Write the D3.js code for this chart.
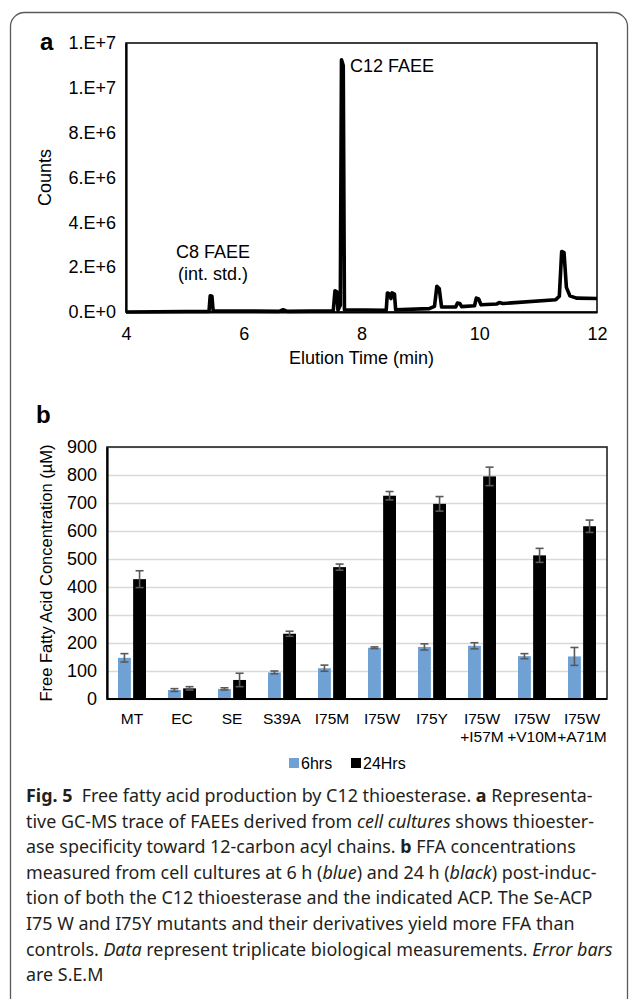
<!DOCTYPE html>
<html>
<head>
<meta charset="utf-8">
<script src="https://cdn.jsdelivr.net/npm/d3@7"></script>
<style>
  body { margin: 0; background: #fff; }
  svg text { font-family: "Liberation Sans", Arial, sans-serif; }
</style>
</head>
<body>
<div id="fig"></div>
<script>
// ---- panel a: GC-MS trace, elution time (min) vs counts ----
var traceTime   = [4.00, 5.00, 5.41, 5.43, 5.46, 5.48, 6.60, 6.67, 6.74, 7.52, 7.55, 7.58, 7.60, 7.64, 7.66, 7.69, 7.71,
                   8.42, 8.44, 8.48, 8.50, 8.52, 8.56, 8.58, 9.15, 9.24, 9.28, 9.32, 9.36, 9.60, 9.63, 9.67, 9.70,
                   9.92, 9.95, 9.99, 10.03, 10.30, 10.34, 10.40, 11.30, 11.36, 11.40, 11.44, 11.48, 11.54, 11.65, 12.00];
var traceCounts = [0, 2e4, 3e4, 7.2e5, 7.0e5, 5e4, 3e4, 1.0e5, 3e4, 5e4, 9.5e5, 9.0e5, 8e4, 3.0e5, 1.125e7, 1.10e7, 1.0e5,
                   8e4, 8.5e5, 8.0e5, 6.0e5, 8.5e5, 8.0e5, 1.0e5, 1.5e5, 2.5e5, 1.15e6, 1.05e6, 2.2e5, 2.2e5, 4.0e5, 3.8e5, 2.4e5,
                   2.8e5, 6.2e5, 5.8e5, 3.2e5, 3.6e5, 4.2e5, 3.8e5, 5.5e5, 7.0e5, 2.70e6, 2.65e6, 1.10e6, 7.2e5, 6.2e5, 6.0e5];
var chromaYTicks = [0, 2e6, 4e6, 6e6, 8e6, 1e7, 1.2e7];
var chromaXTicks = [4, 6, 8, 10, 12];

// ---- panel b: free fatty acid concentration (uM) ----
var strains   = ["MT", "EC", "SE", "S39A", "I75M", "I75W", "I75Y", "I75W\n+I57M", "I75W\n+V10M", "I75W\n+A71M"];
var ffa6h     = [147, 32, 36, 95, 110, 183, 186, 190, 153, 152];
var ffa6hErr  = [15, 5, 4, 5, 11, 3, 11, 11, 9, 32];
var ffa24h    = [428, 38, 68, 233, 471, 726, 697, 795, 513, 617];
var ffa24hErr = [30, 6, 24, 9, 11, 15, 26, 33, 25, 22];
var ffaTicks  = [0, 100, 200, 300, 400, 500, 600, 700, 800, 900];
var seriesNames  = ["6hrs", "24Hrs"];
var seriesColors = ["#6fa1d5", "#000000"];

// ---- caption, one array of [style, text] runs per printed line ----
var captionLines = [
  [["b", "Fig. 5"], ["", "  Free fatty acid production by C12 thioesterase. "], ["b", "a"], ["", " Representa-"]],
  [["", "tive GC-MS trace of FAEEs derived from "], ["i", "cell cultures"], ["", " shows thioester-"]],
  [["", "ase specificity toward 12-carbon acyl chains. "], ["b", "b"], ["", " FFA concentrations"]],
  [["", "measured from cell cultures at 6 h ("], ["i", "blue"], ["", ") and 24 h ("], ["i", "black"], ["", ") post-induc-"]],
  [["", "tion of both the C12 thioesterase and the indicated ACP. The Se-ACP"]],
  [["", "I75 W and I75Y mutants and their derivatives yield more FFA than"]],
  [["", "controls. "], ["i", "Data"], ["", " represent triplicate biological measurements. "], ["i", "Error bars"]],
  [["", "are S.E.M"]]
];

var W = 629, H = 999;
var svg = d3.select("#fig").append("svg")
    .attr("width", W)
    .attr("height", H);

// rounded outer box of the figure
svg.append("rect")
    .attr("x", 10.5).attr("y", 12.5)
    .attr("width", 617).attr("height", 1010)
    .attr("rx", 14)
    .attr("fill", "none")
    .attr("stroke", "#5a5a5a")
    .attr("stroke-width", 1.3);

function expFmt(v) {
  if (v === 0) return "0.E+0";
  var e = Math.floor(Math.log10(v));
  return Math.round(v / Math.pow(10, e)) + ".E+" + e;
}

/***** panel a *****/
var pa = {left: 126, right: 597, top: 43, bottom: 312};
var xA = d3.scaleLinear().domain([4, 12]).range([pa.left, pa.right]);
var yA = d3.scaleLinear().domain([0, 1.2e7]).range([pa.bottom, pa.top]);

svg.append("text")
    .attr("x", 40).attr("y", 50)
    .attr("font-size", 24).attr("font-weight", "bold")
    .text("a");

svg.append("rect")
    .attr("x", pa.left).attr("y", pa.top)
    .attr("width", pa.right - pa.left).attr("height", pa.bottom - pa.top)
    .attr("fill", "none").attr("stroke", "#000").attr("stroke-width", 1.5);

var yAxisA = svg.append("g")
    .attr("transform", "translate(" + pa.left + ",0)")
    .call(d3.axisLeft(yA).tickValues(chromaYTicks).tickSize(0).tickPadding(10).tickFormat(expFmt));

var xAxisA = svg.append("g")
    .attr("transform", "translate(0," + pa.bottom + ")")
    .call(d3.axisBottom(xA).tickValues(chromaXTicks).tickSize(0).tickPadding(15).tickFormat(d3.format("d")));

[yAxisA, xAxisA].forEach(function(g) {
  g.attr("font-family", null).attr("font-size", 18);
  g.select(".domain").attr("stroke", "#000").attr("stroke-width", 2.2);
  g.selectAll("text").attr("fill", "#000");
});

var trace = traceTime.map(function(t, i) { return [t, traceCounts[i]]; });
var traceLine = d3.line()
    .x(function(d) { return xA(d[0]); })
    .y(function(d) { return yA(d[1]); });

svg.append("path")
    .datum(trace)
    .attr("d", traceLine)
    .attr("fill", "none")
    .attr("stroke", "#000")
    .attr("stroke-width", 3.6)
    .attr("stroke-linejoin", "round");

svg.append("text")
    .attr("x", 350).attr("y", 72)
    .attr("font-size", 18)
    .text("C12 FAEE");

svg.append("text")
    .attr("x", 213).attr("y", 258)
    .attr("font-size", 18).attr("text-anchor", "middle")
    .text("C8 FAEE");
svg.append("text")
    .attr("x", 213).attr("y", 280)
    .attr("font-size", 18).attr("text-anchor", "middle")
    .text("(int. std.)");

svg.append("text")
    .attr("transform", "translate(51," + ((pa.top + pa.bottom) / 2) + ") rotate(-90)")
    .attr("font-size", 18).attr("text-anchor", "middle")
    .text("Counts");

svg.append("text")
    .attr("x", (pa.left + pa.right) / 2).attr("y", 364)
    .attr("font-size", 18).attr("text-anchor", "middle")
    .text("Elution Time (min)");

/***** panel b *****/
var pb = {left: 107, right: 607, top: 447, bottom: 699};
var xB = d3.scaleBand().domain(strains).range([pb.left, pb.right]);
var xS = d3.scaleBand().domain(seriesNames).range([11, 39]).paddingInner(0.15);
var yB = d3.scaleLinear().domain([0, 900]).range([pb.bottom, pb.top]);

svg.append("text")
    .attr("x", 36).attr("y", 423)
    .attr("font-size", 24).attr("font-weight", "bold")
    .text("b");

// gridlines
var grid = svg.append("g")
    .attr("transform", "translate(" + pb.left + ",0)")
    .call(d3.axisLeft(yB).tickValues(ffaTicks).tickSize(-(pb.right - pb.left)).tickFormat(""));
grid.select(".domain").remove();
grid.selectAll("line").attr("stroke", "#d9d9d9").attr("stroke-width", 1.3);

svg.append("rect")
    .attr("x", pb.left).attr("y", pb.top)
    .attr("width", pb.right - pb.left).attr("height", pb.bottom - pb.top)
    .attr("fill", "none").attr("stroke", "#222").attr("stroke-width", 1.6);

var series = [
  {name: seriesNames[0], color: seriesColors[0], vals: ffa6h, errs: ffa6hErr},
  {name: seriesNames[1], color: seriesColors[1], vals: ffa24h, errs: ffa24hErr}
];

series.forEach(function(s) {
  var bars = strains.map(function(c, i) { return {cat: c, v: s.vals[i], e: s.errs[i]}; });
  svg.append("g").selectAll("rect")
    .data(bars)
    .join("rect")
      .attr("x", function(d) { return xB(d.cat) + xS(s.name); })
      .attr("y", function(d) { return yB(d.v); })
      .attr("width", xS.bandwidth())
      .attr("height", function(d) { return yB(0) - yB(d.v); })
      .attr("fill", s.color);

  var eg = svg.append("g").attr("stroke", "#595959").attr("stroke-width", 1.6);
  bars.forEach(function(d) {
    var cx = xB(d.cat) + xS(s.name) + xS.bandwidth() / 2;
    eg.append("line").attr("x1", cx).attr("x2", cx).attr("y1", yB(d.v + d.e)).attr("y2", yB(d.v - d.e));
    eg.append("line").attr("x1", cx - 4).attr("x2", cx + 4).attr("y1", yB(d.v + d.e)).attr("y2", yB(d.v + d.e));
    eg.append("line").attr("x1", cx - 4).attr("x2", cx + 4).attr("y1", yB(d.v - d.e)).attr("y2", yB(d.v - d.e));
  });
});

var yAxisB = svg.append("g")
    .attr("transform", "translate(" + pb.left + ",0)")
    .call(d3.axisLeft(yB).tickValues(ffaTicks).tickSize(0).tickPadding(10));
yAxisB.attr("font-family", null).attr("font-size", 18);
yAxisB.select(".domain").attr("stroke", "#000").attr("stroke-width", 2.2);
yAxisB.selectAll("text").attr("fill", "#000");

svg.append("line")
    .attr("x1", pb.left).attr("x2", pb.right)
    .attr("y1", pb.bottom).attr("y2", pb.bottom)
    .attr("stroke", "#000").attr("stroke-width", 2.2);

// category labels (two lines for the double mutants)
var catText = svg.append("g").attr("font-size", 15.5).attr("text-anchor", "middle");
strains.forEach(function(c) {
  var t = catText.append("text").attr("y", 724);
  c.split("\n").forEach(function(part, k) {
    t.append("tspan")
      .attr("x", xB(c) + xB.bandwidth() / 2)
      .attr("y", 724 + k * 18)
      .text(part);
  });
});

svg.append("text")
    .attr("transform", "translate(52," + ((pb.top + pb.bottom) / 2) + ") rotate(-90)")
    .attr("font-size", 16.5).attr("text-anchor", "middle")
    .text("Free Fatty Acid Concentration (\u00b5M)");

// legend
var legend = svg.append("g").attr("font-size", 16);
var lx = [289, 351];
seriesNames.forEach(function(n, i) {
  legend.append("rect")
    .attr("x", lx[i]).attr("y", 758)
    .attr("width", 10).attr("height", 10)
    .attr("fill", seriesColors[i]);
  legend.append("text")
    .attr("x", lx[i] + 12).attr("y", 769)
    .text(n);
});

/***** caption *****/
var cap = svg.append("g").attr("fill", "#231f20");
var capNodes = [];
captionLines.forEach(function(line, i) {
  var t = cap.append("text")
      .attr("x", 0).attr("y", 0)
      .attr("font-size", 18.5)
      .style("font-family", "'Noto Sans', 'Open Sans', sans-serif")
      .attr("xml:space", "preserve");
  line.forEach(function(run) {
    var ts = t.append("tspan").text(run[1]);
    if (run[0] === "b") ts.attr("font-weight", "bold");
    if (run[0] === "i") ts.attr("font-style", "italic");
  });
  capNodes.push(t);
});
// squeeze all lines by the same factor so the longest line ends at the right margin
var capLeft = 26, capRight = 613;
var w7 = capNodes[6].node().getComputedTextLength();
var sx = (capRight - capLeft) / w7;
capNodes.forEach(function(t, i) {
  t.attr("transform", "translate(" + capLeft + "," + (802 + i * 25.6) + ") scale(" + sx + ",1)");
});
</script>
</body>
</html>
